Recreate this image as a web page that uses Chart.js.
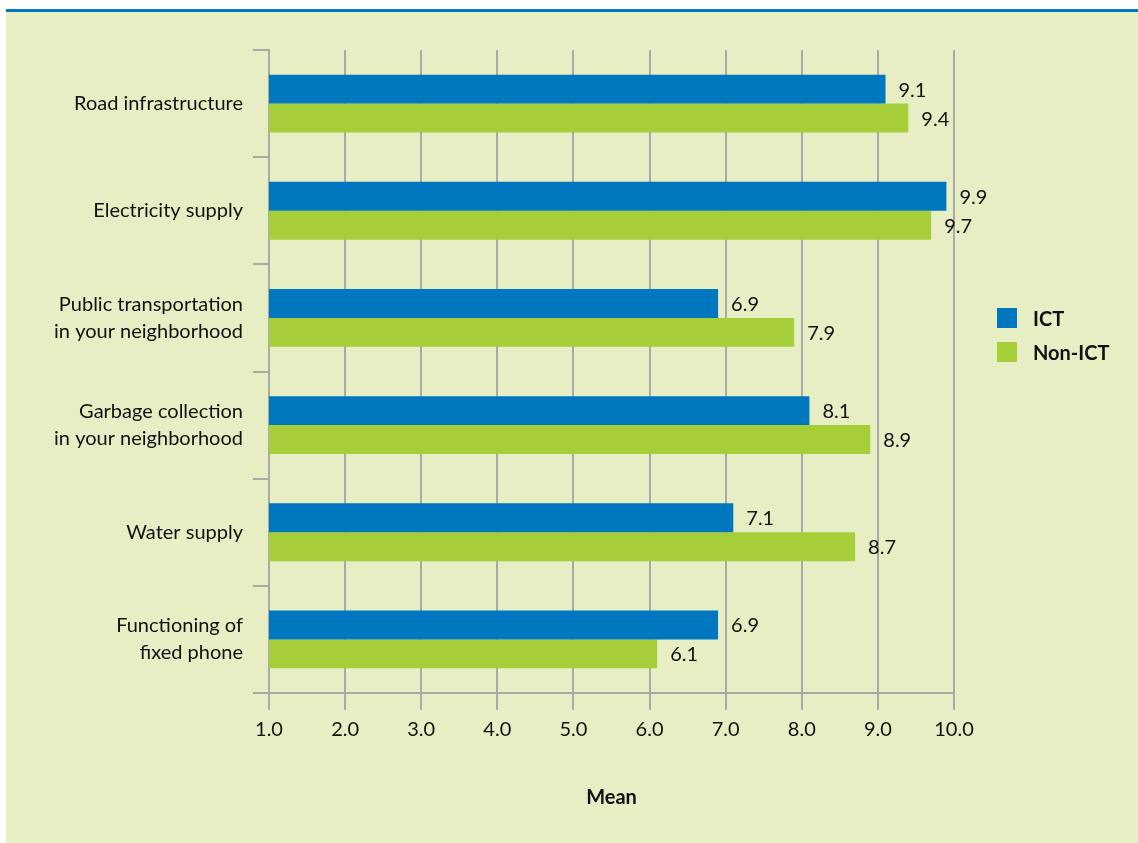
<!DOCTYPE html>
<html>
<head>
<meta charset="utf-8">
<script src="https://cdn.jsdelivr.net/npm/chart.js@4"></script>
<style>
  body { margin: 0; background: #fff; font-family: Lato, sans-serif; }
  #topline { position: absolute; left: 6px; top: 9px; width: 1132px; height: 3px; background: #0077bf; }
  #panel { position: absolute; left: 6px; top: 12px; width: 1132px; height: 831px; background: #e7eec3; }
  #legend { position: absolute; left: 997px; top: 308px; font-weight: bold; font-size: 20px; color: #111; }
  .item { display: flex; align-items: center; height: 20px; margin-bottom: 14px; }
  .box { width: 20px; height: 20px; margin-right: 16px; }
</style>
</head>
<body>
<div id="topline"></div>
<div id="panel">
  <canvas id="services"></canvas>
</div>
<div id="legend"></div>
<script>
const categories = [
  'Road infrastructure',
  'Electricity supply',
  ['Public transportation', 'in your neighborhood'],
  ['Garbage collection', 'in your neighborhood'],
  'Water supply',
  ['Functioning of', 'fixed phone']
];
const seriesNames = ['ICT', 'Non-ICT'];
const ictValues = [9.1, 9.9, 6.9, 8.1, 7.1, 6.9];
const nonIctValues = [9.4, 9.7, 7.9, 8.9, 8.7, 6.1];
const seriesColors = ['#0077bf', '#a6ce39'];

const gridColor = '#a9a9a9';
const textColor = '#111';
const fontSize = 20;

// legend as html next to the plot
const legend = document.getElementById('legend');
seriesNames.forEach((name, i) => {
  legend.innerHTML += `<div class="item"><div class="box" style="background:${seriesColors[i]}"></div>${name}</div>`;
});

const barLabels = {
  id: 'barLabels',
  afterDatasetsDraw(chart) {
    const ctx = chart.ctx;
    ctx.save();
    ctx.font = fontSize + 'px Lato';
    ctx.fillStyle = textColor;
    ctx.textBaseline = 'middle';
    ctx.textAlign = 'left';
    chart.data.datasets.forEach((ds, i) => {
      chart.getDatasetMeta(i).data.forEach((bar, j) => {
        ctx.fillText(ds.data[j].toFixed(1), bar.x + 13, bar.y + 1);
      });
    });
    ctx.restore();
  }
};

const canvas = document.getElementById('services');
canvas.width = 1132;
canvas.height = 831;

new Chart(canvas, {
  type: 'bar',
  data: {
    labels: categories,
    datasets: [
      { label: seriesNames[0], data: ictValues, backgroundColor: seriesColors[0] },
      { label: seriesNames[1], data: nonIctValues, backgroundColor: seriesColors[1] }
    ]
  },
  options: {
    indexAxis: 'y',
    responsive: false,
    animation: false,
    categoryPercentage: 0.54,
    barPercentage: 1,
    layout: { padding: { top: 38, right: 184, left: 0, bottom: 0 } },
    plugins: {
      legend: { display: false },
      tooltip: { enabled: false }
    },
    scales: {
      x: {
        min: 1,
        max: 10,
        ticks: {
          stepSize: 1,
          padding: 8,
          color: textColor,
          font: { family: 'Lato', size: fontSize },
          callback: v => v.toFixed(1)
        },
        grid: { color: gridColor, lineWidth: 2, tickLength: 17 },
        border: { color: gridColor, width: 2 },
        title: {
          display: true,
          text: 'Mean',
          color: textColor,
          font: { family: 'Lato', size: fontSize, weight: 'bold' },
          padding: { top: 0, bottom: 33 }
        },
        afterFit: s => { s.height = 150; }
      },
      y: {
        ticks: {
          padding: 10,
          color: textColor,
          font: { family: 'Lato', size: fontSize, lineHeight: 1.35 }
        },
        grid: { color: gridColor, lineWidth: 2, tickLength: 16, drawOnChartArea: false, offset: true },
        border: { color: gridColor, width: 2 },
        afterFit: s => { s.width = 263; }
      }
    }
  },
  plugins: [barLabels]
});
</script>
</body>
</html>
